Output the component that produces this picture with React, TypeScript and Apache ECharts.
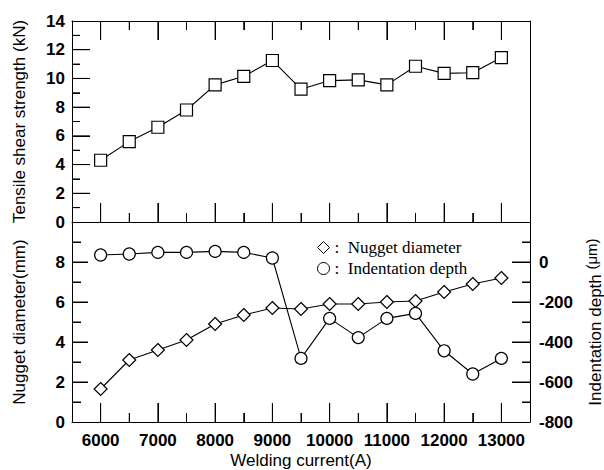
import React, { useEffect, useRef } from "react";
import * as echarts from "echarts";

const currents = [6000, 6500, 7000, 7500, 8000, 8500, 9000, 9500, 10000, 10500, 11000, 11500, 12000, 12500, 13000];
const strength = [4.3, 5.6, 6.6, 7.8, 9.55, 10.15, 11.25, 9.25, 9.85, 9.9, 9.55, 10.85, 10.35, 10.4, 11.45];
const nugget = [1.65, 3.1, 3.6, 4.1, 4.9, 5.35, 5.7, 5.65, 5.9, 5.9, 6.0, 6.05, 6.5, 6.9, 7.2];
const indentation = [35, 40, 48, 48, 53, 48, 20, -482, -282, -378, -282, -257, -444, -560, -482];

const currentLabels = [6000, 7000, 8000, 9000, 10000, 11000, 12000, 13000];
const currentTicks = [6000, 6500, 7000, 7500, 8000, 8500, 9000, 9500, 10000, 10500, 11000, 11500, 12000, 12500, 13000];
const strengthTicks = [1, 2, 3, 4, 5, 6, 7, 8, 9, 10, 11, 12, 13];
const nuggetTicks = [1, 2, 3, 4, 5, 6, 7, 8, 9];
const depthTicks = [-700, -600, -500, -400, -300, -200, -100, 0, 100];

const SANS = "'Liberation Sans', Arial, sans-serif";
const SERIF = "'Liberation Serif', 'Times New Roman', serif";
const X_MIN = 5500;
const X_MAX = 13500;
const GRID_W = 458;
const TOP_H = 201;
const BOT_H = 200;

const labelStyle = { color: "#000", fontFamily: SANS, fontSize: 17, fontWeight: "bold" };
const nameStyle = { color: "#000", fontFamily: SANS, fontSize: 17 };
const lineAxis = { show: true, onZero: false, lineStyle: { color: "#000", width: 1 } };

const xMajor = (x: number) => x % 1000 === 0;

// ---- tick marks as markLine segments (data coordinates) ----
const xLen = (px: number) => (px * (X_MAX - X_MIN)) / GRID_W;
const vTicks = (vals: number[], yEdge: number, sign: number, yPerPx: number) =>
  vals.map((v) => {
    const len = (xMajor(v) ? 19 : 9) * yPerPx * sign;
    return [{ coord: [v, yEdge] }, { coord: [v, yEdge + len] }];
  });
const hTicks = (vals: number[], xEdge: number, sign: number, major: number, majorPx: number, minorPx: number) =>
  vals.map((v) => {
    const len = xLen(Math.abs(v % major) < 1e-9 ? majorPx : minorPx) * sign;
    return [{ coord: [xEdge, v] }, { coord: [xEdge + len, v] }];
  });
const tickMark = (data: any[]) => ({
  silent: true,
  symbol: "none",
  animation: false,
  label: { show: false },
  emphasis: { disabled: true },
  lineStyle: { color: "#000", width: 1, type: "solid", opacity: 1 },
  data,
});

// ---- tick marks as custom series (anchored at an interior data point) ----
const tickSeries = (
  name: string,
  xAxisIndex: number,
  yAxisIndex: number,
  items: number[][],
  edge: "bottom" | "top" | "left" | "right",
  edgeValue: number,
  isMajor: (v: number) => boolean,
  majorLen: number,
  minorLen: number
) => ({
  name,
  type: "custom",
  xAxisIndex,
  yAxisIndex,
  data: items,
  renderItem: (_p: any, api: any) => {
    const xv = api.value(0);
    const yv = api.value(1);
    const vertical = edge === "bottom" || edge === "top";
    const p = vertical ? api.coord([xv, edgeValue]) : api.coord([edgeValue, yv]);
    const len = isMajor(vertical ? xv : yv) ? majorLen : minorLen;
    const dx = edge === "left" ? len : edge === "right" ? -len : 0;
    const dy = edge === "bottom" ? -len : edge === "top" ? len : 0;
    return {
      type: "line",
      shape: { x1: p[0], y1: p[1], x2: p[0] + dx, y2: p[1] + dy },
      style: { stroke: "#000", lineWidth: 1 },
    };
  },
});

export default function App() {
  const ref = useRef<HTMLDivElement>(null);
  useEffect(() => {
    if (!ref.current) return;
    const chart = echarts.init(ref.current, null, { renderer: "svg" });
    const pair = (vals: number[]) => currents.map((c, i) => [c, vals[i]]);
    const midX = (X_MIN + X_MAX) / 2;
    chart.setOption({
      animation: false,
      backgroundColor: "#fff",
      grid: [
        { left: 72, top: 21, width: GRID_W, height: TOP_H, outerBoundsMode: "none" },
        { left: 72, top: 222, width: GRID_W, height: BOT_H, outerBoundsMode: "none" },
      ],
      legend: {
        orient: "vertical",
        left: 312,
        top: 234,
        itemWidth: 12,
        itemHeight: 12,
        itemGap: 4,
        formatter: (n: string) => ":  " + n,
        textStyle: { color: "#000", fontFamily: SERIF, fontSize: 17 },
        data: [
          { name: "Nugget diameter", icon: "diamond", itemStyle: { color: "#fff", borderColor: "#000", borderWidth: 1 } },
          { name: "Indentation depth", icon: "circle", itemStyle: { color: "#fff", borderColor: "#000", borderWidth: 1 } },
        ],
      },
      xAxis: [
        {
          type: "value", gridIndex: 0, position: "bottom", min: X_MIN, max: X_MAX,
          axisLine: lineAxis, axisTick: { show: false }, axisLabel: { show: false }, splitLine: { show: false },
        },
        {
          type: "value", gridIndex: 0, position: "top", min: X_MIN, max: X_MAX,
          axisLine: lineAxis, axisTick: { show: false }, axisLabel: { show: false }, splitLine: { show: false },
        },
        {
          type: "value", gridIndex: 1, position: "bottom", min: X_MIN, max: X_MAX,
          axisLine: lineAxis, axisTick: { show: false },
          axisLabel: { show: true, customValues: currentLabels, margin: 10, formatter: (v: number) => String(v), ...labelStyle },
          splitLine: { show: false },
          name: "Welding current(A)",
          nameLocation: "middle",
          nameGap: 30,
          nameTextStyle: nameStyle,
        },
      ],
      yAxis: [
        {
          type: "value", gridIndex: 0, position: "left", min: 0, max: 14, interval: 2,
          axisLine: lineAxis, axisTick: { show: false },
          axisLabel: { margin: 7, ...labelStyle },
          splitLine: { show: false },
          name: "Tensile shear strength (kN)",
          nameLocation: "middle",
          nameRotate: 90,
          nameGap: 44,
          nameTextStyle: nameStyle,
        },
        {
          type: "value", gridIndex: 0, position: "right", min: 0, max: 14,
          axisLine: lineAxis, axisTick: { show: false }, axisLabel: { show: false }, splitLine: { show: false },
        },
        {
          type: "value", gridIndex: 1, position: "left", min: 0, max: 10, interval: 2,
          axisLine: lineAxis, axisTick: { show: false },
          axisLabel: { margin: 7, showMaxLabel: false, ...labelStyle },
          splitLine: { show: false },
          name: "Nugget diameter(mm)",
          nameLocation: "middle",
          nameRotate: 90,
          nameGap: 44,
          nameTextStyle: nameStyle,
        },
        {
          type: "value", gridIndex: 1, position: "right", min: -800, max: 200, interval: 200,
          axisLine: lineAxis, axisTick: { show: false },
          axisLabel: { margin: 9, showMaxLabel: false, ...labelStyle },
          splitLine: { show: false },
          name: "Indentation depth {u|(μm)}",
          nameLocation: "middle",
          nameRotate: 90,
          nameGap: 54,
          nameTextStyle: { ...nameStyle, rich: { u: { fontFamily: SANS, fontSize: 15, color: "#000", padding: [0, 0, 8, 0] } } },
        },
      ],
      series: [
        tickSeries("ticks-a", 0, 0, currentTicks.map((v) => [v, 7]), "bottom", 0, xMajor, 19, 9),
        tickSeries("ticks-b", 0, 0, currentTicks.map((v) => [v, 7]), "top", 14, xMajor, 19, 9),
        tickSeries("ticks-c", 0, 0, strengthTicks.map((v) => [midX, v]), "left", X_MIN, (y) => y % 2 === 0, 18, 8),
        tickSeries("ticks-d", 2, 2, currentTicks.map((v) => [v, 5]), "bottom", 0, xMajor, 19, 9),
        tickSeries("ticks-e", 2, 2, nuggetTicks.map((v) => [midX, v]), "left", X_MIN, (y) => y % 2 === 0, 16, 9),
        tickSeries("ticks-f", 2, 3, depthTicks.map((v) => [midX, v]), "right", X_MAX, (y) => y % 200 === 0, 18, 8),
        {
          name: "Tensile shear strength",
          type: "line",
          xAxisIndex: 0,
          yAxisIndex: 0,
          data: pair(strength),
          symbol: "rect",
          symbolSize: 12,
          itemStyle: { color: "#fff", borderColor: "#000", borderWidth: 1.2 },
          lineStyle: { color: "#000", width: 1.1 },
          markLine: tickMark([
            ...vTicks(currentTicks, 0, 1, 14 / TOP_H),
            ...vTicks(currentTicks, 14, -1, 14 / TOP_H),
            ...hTicks(strengthTicks, X_MIN, 1, 2, 18, 8),
          ]),
        },
        {
          name: "Nugget diameter",
          type: "line",
          xAxisIndex: 2,
          yAxisIndex: 2,
          data: pair(nugget),
          symbol: "diamond",
          symbolSize: 13,
          itemStyle: { color: "#fff", borderColor: "#000", borderWidth: 1.2 },
          lineStyle: { color: "#000", width: 1.1 },
          markLine: tickMark([
            ...vTicks(currentTicks, 0, 1, 10 / BOT_H),
            ...hTicks(nuggetTicks, X_MIN, 1, 2, 16, 9),
          ]),
        },
        {
          name: "Indentation depth",
          type: "line",
          xAxisIndex: 2,
          yAxisIndex: 3,
          data: pair(indentation),
          symbol: "circle",
          symbolSize: 12,
          itemStyle: { color: "#fff", borderColor: "#000", borderWidth: 1.2 },
          lineStyle: { color: "#000", width: 1.1 },
          markLine: tickMark(hTicks(depthTicks, X_MAX, -1, 200, 18, 8)),
        },
      ],
    });
    return () => chart.dispose();
  }, []);
  return <div ref={ref} style={{ position: "absolute", left: 0, top: 0, width: 604, height: 470, background: "#fff" }} />;
}
